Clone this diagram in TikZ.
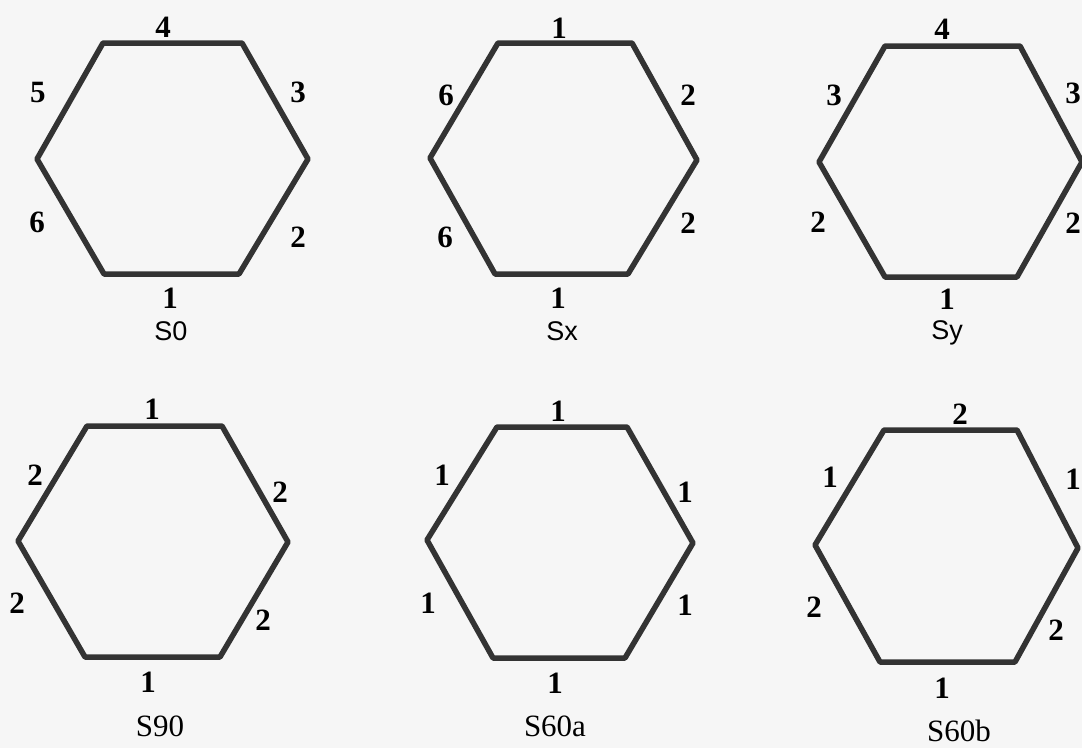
\documentclass[tikz,border=0pt]{standalone}
\usepackage{fontspec}
\setmainfont{Liberation Serif}
\newfontfamily\capsans{Liberation Sans}
\definecolor{bg}{HTML}{F6F6F6}
\definecolor{edge}{HTML}{333333}
\begin{document}
\begin{tikzpicture}[x=1pt,y=-1pt,
  hexline/.style={draw=edge,line width=5.5pt,line join=round},
  num/.style={font=\fontsize{31}{31}\selectfont\bfseries,inner sep=0pt,text=black},
  capser/.style={font=\fontsize{31}{31}\selectfont,inner sep=0pt,text=black},
  capsf/.style={font=\capsans\fontsize{27}{27}\selectfont,inner sep=0pt,text=black}]
\fill[bg] (0,0) rectangle (1082,748);
\useasboundingbox (0,0) rectangle (1082,748);
\clip (0,0) rectangle (1082,748);
% S0
\draw[hexline] (103,43) -- (242,43) -- (308,159) -- (239,274) -- (104,274) -- (37,159) -- cycle;
\node[num] (a1) at (163,27) {4};
\node[num] (a2) at (38,92) {5};
\node[num] (a3) at (298,92) {3};
\node[num] (a4) at (37,222) {6};
\node[num] (a5) at (298,237) {2};
\node[num] (a6) at (170,298) {1};
\node[capsf] (a7) at (171,331) {S0};
% Sx
\draw[hexline] (498,43) -- (632,43) -- (697,160) -- (628,274) -- (495,274) -- (430,158) -- cycle;
\node[num] (b1) at (559,28) {1};
\node[num] (b2) at (446,95) {6};
\node[num] (b3) at (688,95) {2};
\node[num] (b4) at (445,237) {6};
\node[num] (b5) at (688,223) {2};
\node[num] (b6) at (558,298) {1};
\node[capsf] (b7) at (562,331) {Sx};
% Sy
\draw[hexline] (885,46) -- (1020,46) -- (1082,162) -- (1017,277) -- (885,277) -- (819,162) -- cycle;
\node[num] (c1) at (942,29) {4};
\node[num] (c2) at (834,95) {3};
\node[num] (c3) at (1073,93) {3};
\node[num] (c4) at (818,222) {2};
\node[num] (c5) at (1073,223) {2};
\node[num] (c6) at (947,299) {1};
\node[capsf] (c7) at (947,333) {Sy};
% S90
\draw[hexline] (87,426) -- (222,426) -- (288,542) -- (220,657) -- (85,657) -- (18,541) -- cycle;
\node[num] (d1) at (152,409) {1};
\node[num] (d2) at (35,475) {2};
\node[num] (d3) at (280,492) {2};
\node[num] (d4) at (17,603) {2};
\node[num] (d5) at (263,620) {2};
\node[num] (d6) at (148,682) {1};
\node[capser] (d7) at (160,726) {S90};
% S60a
\draw[hexline] (497,427) -- (627,427) -- (693,543) -- (625,658) -- (493,658) -- (427,540) -- cycle;
\node[num] (e1) at (558,411) {1};
\node[num] (e2) at (442,475) {1};
\node[num] (e3) at (685,492) {1};
\node[num] (e4) at (428,603) {1};
\node[num] (e5) at (685,605) {1};
\node[num] (e6) at (555,683) {1};
\node[capser] (e7) at (555,726) {S60a};
% S60b
\draw[hexline] (884,430) -- (1017,430) -- (1078,548) -- (1015,662) -- (880,662) -- (815,545) -- cycle;
\node[num] (f1) at (960,414) {2};
\node[num] (f2) at (830,477) {1};
\node[num] (f3) at (1073,479) {1};
\node[num] (f4) at (814,607) {2};
\node[num] (f5) at (1056,630) {2};
\node[num] (f6) at (942,688) {1};
\node[capser] (f7) at (959,731) {S60b};
\end{tikzpicture}
\end{document}
